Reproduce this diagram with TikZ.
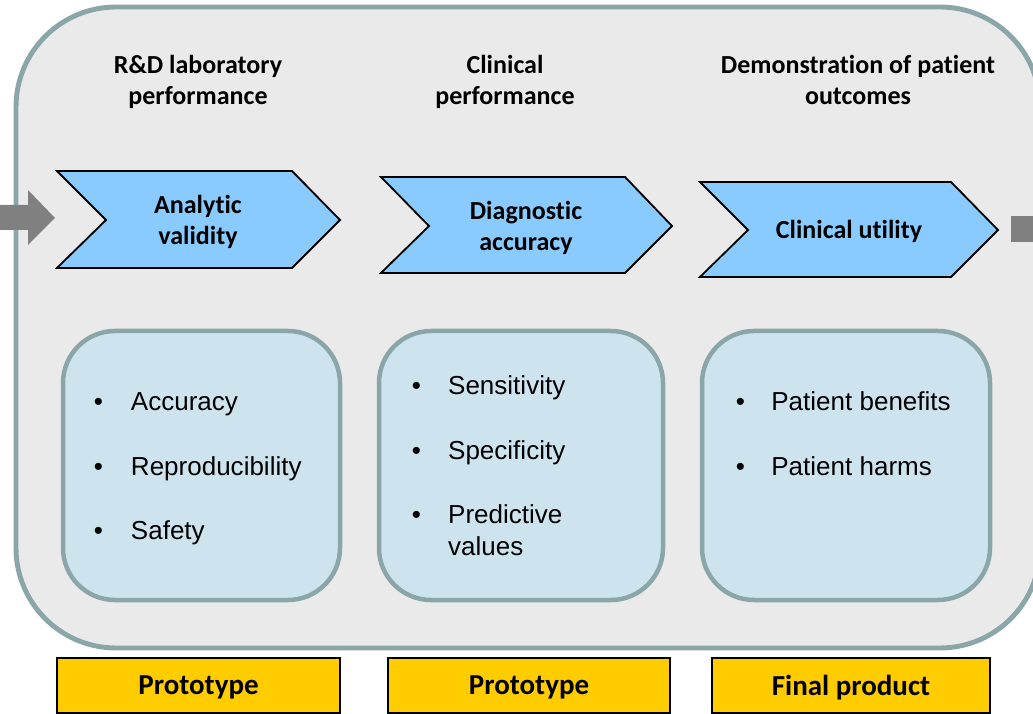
\documentclass[tikz,border=0pt]{standalone}
\usepackage{fontspec}
\setmainfont{Carlito}[Ligatures=NoCommon]
\newfontfamily\arialfont{Liberation Sans}
\definecolor{panelgray}{HTML}{EAEAEA}
\definecolor{rimteal}{HTML}{8BA6A8}
\definecolor{chevblue}{HTML}{8ACBFF}
\definecolor{boxblue}{HTML}{CDE4EF}
\definecolor{stagegold}{HTML}{FFCC00}
\definecolor{flowgray}{HTML}{808080}
\begin{document}
\begin{tikzpicture}[x=0.025cm,y=-0.025cm,
	heading/.style={font=\fontsize{18.5}{22}\selectfont\bfseries,align=center,inner sep=0pt},
	chevron/.style={draw=black,line width=1.3pt,fill=chevblue,line join=miter},
	stepbox/.style={draw=rimteal,line width=3.2pt,fill=boxblue,rounded corners=1.3cm},
	pointlist/.style={font=\arialfont\fontsize{18.5}{22.8}\selectfont,anchor=base west,inner sep=0pt},
	stagebox/.style={draw=black,line width=1.1pt,fill=stagegold,minimum height=1.375cm,
		font=\fontsize{20.6}{24}\selectfont\bfseries,inner sep=0pt,text depth=0pt}]
	\clip (0,0) rectangle (1033,714);
	\fill[white] (0,0) rectangle (1033,714);
	% outer panel
	\draw[draw=rimteal,line width=3.5pt,fill=panelgray,rounded corners=2.5cm] (16,7) rectangle (1040,648);
	% flow arrows at the edges
	\fill[flowgray] (0,205)--(28,205)--(28,190)--(55,218)--(28,245)--(28,230)--(0,230)--cycle;
	\fill[flowgray] (1011,216) rectangle (1040,242);
	% headings
	\node[heading] (rdhead) at (198,82) {R\&D laboratory\\performance};
	\node[heading] (clinhead) at (505,82) {Clinical\\performance};
	\node[heading] (outhead) at (858,80) {Demonstration of patient\\outcomes};
	% chevrons
	\draw[chevron] (57,171)--(292,171)--(340,220)--(292,268)--(57,268)--(106,220)--cycle;
	\draw[chevron] (381,177)--(625,177)--(672,226)--(625,273)--(381,273)--(429,226)--cycle;
	\draw[chevron] (700,182)--(951,182)--(998,230)--(951,277)--(700,277)--(748,230)--cycle;
	\node[heading] (analytic) at (198,222) {Analytic\\validity};
	\node[heading] (diagnostic) at (526,228) {Diagnostic\\accuracy};
	\node[heading] (utility) at (849,231) {Clinical utility};
	% detail boxes
	\draw[stepbox] (63,331) rectangle (340,600);
	\draw[stepbox] (379,331) rectangle (663,600);
	\draw[stepbox] (702,331) rectangle (990,600);
	\node[pointlist] (labpoints) at (93.5,411) {\begin{tabular}[t]{@{}p{0.93cm}@{}l@{}}
		•&Accuracy\\[22.8pt]
		•&Reproducibility\\[22.8pt]
		•&Safety
	\end{tabular}};
	\node[pointlist] (diagpoints) at (411.5,395) {\begin{tabular}[t]{@{}p{0.91cm}@{}l@{}}
		•&Sensitivity\\[22.8pt]
		•&Specificity\\[22.8pt]
		•&Predictive\\
		&values
	\end{tabular}};
	\node[pointlist] (utilpoints) at (735.5,411) {\begin{tabular}[t]{@{}p{0.89cm}@{}l@{}}
		•&Patient benefits\\[22.8pt]
		•&Patient harms
	\end{tabular}};
	% stage labels
	\node[stagebox,minimum width=7.075cm] (proto1) at (198.5,685.5) {Prototype};
	\node[stagebox,minimum width=7.05cm] (proto2) at (529,685.5) {Prototype};
	\node[stagebox,minimum width=6.95cm] (final) at (851,685.5) {Final product};
\end{tikzpicture}
\end{document}
